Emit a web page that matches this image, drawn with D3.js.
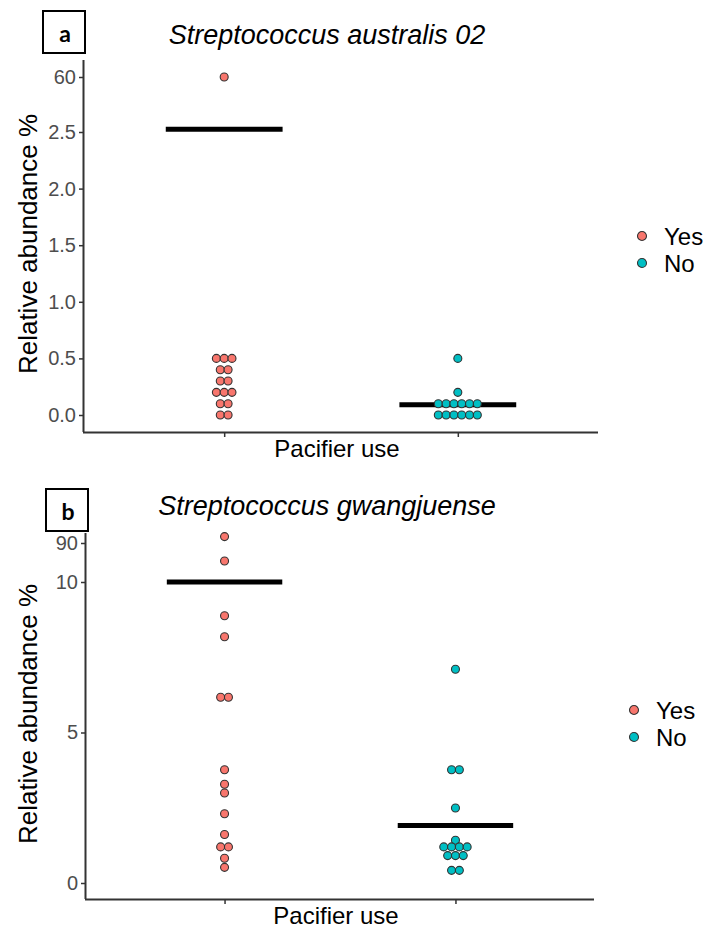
<!DOCTYPE html>
<html>
<head>
<meta charset="utf-8">
<script src="https://cdn.jsdelivr.net/npm/d3@7"></script>
<style>
  body { margin: 0; background: #fff; }
  text { font-family: "Liberation Sans", Arial, sans-serif; }
</style>
</head>
<body>
<svg id="chart"></svg>
<script>
const width = 713;
const height = 930;

// groups and colours
const groups = ["Yes", "No"];
const groupColors = ["#F8766D", "#00BFC4"];

// panel a: Streptococcus australis 02
const aYes = [0.5, 0.5, 0.5, 0.4, 0.4, 0.3, 0.3, 0.2, 0.2, 0.2, 0.1, 0.1, 0, 0, 60];
const aNo = [0.5, 0.2, 0.1, 0.1, 0.1, 0.1, 0.1, 0.1, 0, 0, 0, 0, 0, 0];
const aMeans = [5.3, 0.09];
const aTicks = [0, 0.5, 1, 1.5, 2, 2.5, 60];
const aTickLabels = ["0.0", "0.5", "1.0", "1.5", "2.0", "2.5", "60"];

// panel b: Streptococcus gwangjuense
const bYes = [98, 53, 8.88, 8.18, 6.17, 6.17, 3.76, 3.28, 2.99, 2.30, 1.61, 1.20, 1.20, 0.82, 0.52];
const bNo = [7.10, 3.76, 3.76, 2.49, 1.42, 1.20, 1.20, 1.20, 1.20, 0.91, 0.91, 0.91, 0.42, 0.42];
const bMeans = [10, 1.91];
const bTicks = [0, 5, 10, 90];
const bTickLabels = ["0", "5", "10", "90"];

const svg = d3.select("#chart")
  .attr("width", width)
  .attr("height", height);

function drawPanel(cfg) {
  const x = d3.scalePoint()
    .domain(groups)
    .range([cfg.left, cfg.right])
    .padding(0.6);

  // broken axis: piecewise linear scale
  const y = d3.scaleLinear()
    .domain(cfg.yDomain)
    .range(cfg.yRange);

  const color = d3.scaleOrdinal().domain(groups).range(groupColors);

  const g = svg.append("g");

  // label box
  g.append("rect")
    .attr("x", cfg.box[0]).attr("y", cfg.box[1])
    .attr("width", 42).attr("height", 42)
    .attr("fill", "none").attr("stroke", "#000").attr("stroke-width", 2);
  g.append("text")
    .attr("x", cfg.box[0] + 22).attr("y", cfg.box[1] + 31)
    .attr("text-anchor", "middle")
    .style("font-family", "Lato, 'Open Sans', sans-serif")
    .style("font-weight", "bold").style("font-size", "23px")
    .text(cfg.letter);

  // title
  g.append("text")
    .attr("x", 327).attr("y", cfg.titleY)
    .attr("text-anchor", "middle")
    .style("font-style", "italic").style("font-size", "27px")
    .text(cfg.title);

  // y axis
  const yAxis = d3.axisLeft(y)
    .tickValues(cfg.ticks)
    .tickFormat((d, i) => cfg.tickLabels[i])
    .tickSize(5).tickPadding(3);
  const ya = g.append("g")
    .attr("transform", `translate(${cfg.left},0)`)
    .call(yAxis);
  ya.select(".domain").attr("d", `M-0.5,${cfg.top}V${cfg.bottom}`)
    .attr("stroke", "#333").attr("stroke-width", 2);
  ya.selectAll(".tick line").attr("stroke", "#333").attr("stroke-width", 1.5);
  ya.selectAll(".tick text")
    .attr("fill", "#4D4D4D").style("font-size", "20px")
    .style("font-family", "'Liberation Sans', Arial, sans-serif");

  // x axis
  const xAxis = d3.axisBottom(x).tickSize(5).tickFormat("");
  const xa = g.append("g")
    .attr("transform", `translate(0,${cfg.bottom})`)
    .call(xAxis);
  xa.select(".domain").attr("d", `M${cfg.left - 1},0.5H${cfg.right}`)
    .attr("stroke", "#333").attr("stroke-width", 2);
  xa.selectAll(".tick line").attr("stroke", "#333").attr("stroke-width", 1.5);

  // axis titles
  g.append("text")
    .attr("transform", `translate(37,${(cfg.top + cfg.bottom) / 2 - 2}) rotate(-90)`)
    .attr("text-anchor", "middle")
    .style("font-size", "26px")
    .text("Relative abundance %");
  g.append("text")
    .attr("x", (cfg.left + cfg.right) / 2 - 4).attr("y", cfg.bottom + 25)
    .attr("text-anchor", "middle")
    .style("font-size", "24px")
    .text("Pacifier use");

  // dots, stacked side by side for equal values
  const spacing = 7.8;
  const dots = [];
  cfg.series.forEach((vals, gi) => {
    const rows = d3.group(vals, v => v);
    rows.forEach((arr, v) => {
      arr.forEach((_, i) => {
        dots.push({ group: groups[gi], value: v, off: (i - (arr.length - 1) / 2) * spacing });
      });
    });
  });

  // mean crossbars
  const halfBar = x.step() * 0.25;
  g.selectAll(".mean")
    .data(groups)
    .join("line")
    .attr("class", "mean")
    .attr("x1", d => x(d) - halfBar)
    .attr("x2", d => x(d) + halfBar)
    .attr("y1", (d, i) => y(cfg.means[i]))
    .attr("y2", (d, i) => y(cfg.means[i]))
    .attr("stroke", "#000").attr("stroke-width", 5);

  g.selectAll(".dot")
    .data(dots)
    .join("circle")
    .attr("class", "dot")
    .attr("cx", d => x(d.group) + d.off)
    .attr("cy", d => y(d.value))
    .attr("r", 4)
    .attr("fill", d => color(d.group))
    .attr("stroke", "#333").attr("stroke-width", 1.1);

  // legend
  const lg = g.append("g")
    .attr("transform", `translate(${cfg.legend[0]},${cfg.legend[1]})`);
  groups.forEach((grp, i) => {
    lg.append("circle")
      .attr("cx", 0).attr("cy", i * 27)
      .attr("r", 4.5)
      .attr("fill", color(grp)).attr("stroke", "#333").attr("stroke-width", 1.1);
    lg.append("text")
      .attr("x", 22).attr("y", i * 27 + 8.5)
      .style("font-size", "24px")
      .text(grp);
  });
}

drawPanel({
  letter: "a",
  box: [43, 11],
  title: "Streptococcus australis 02",
  titleY: 44,
  left: 84, right: 598, top: 60, bottom: 432,
  yDomain: [0, 2.5, 60],
  yRange: [415, 132, 77],
  ticks: aTicks, tickLabels: aTickLabels,
  series: [aYes, aNo],
  means: aMeans,
  legend: [642, 236]
});

drawPanel({
  letter: "b",
  box: [46, 489],
  title: "Streptococcus gwangjuense",
  titleY: 515,
  left: 86, right: 594, top: 533, bottom: 899,
  yDomain: [0, 10, 90, 100],
  yRange: [883, 582, 543, 535],
  ticks: bTicks, tickLabels: bTickLabels,
  series: [bYes, bNo],
  means: bMeans,
  legend: [634, 710]
});
</script>
</body>
</html>
